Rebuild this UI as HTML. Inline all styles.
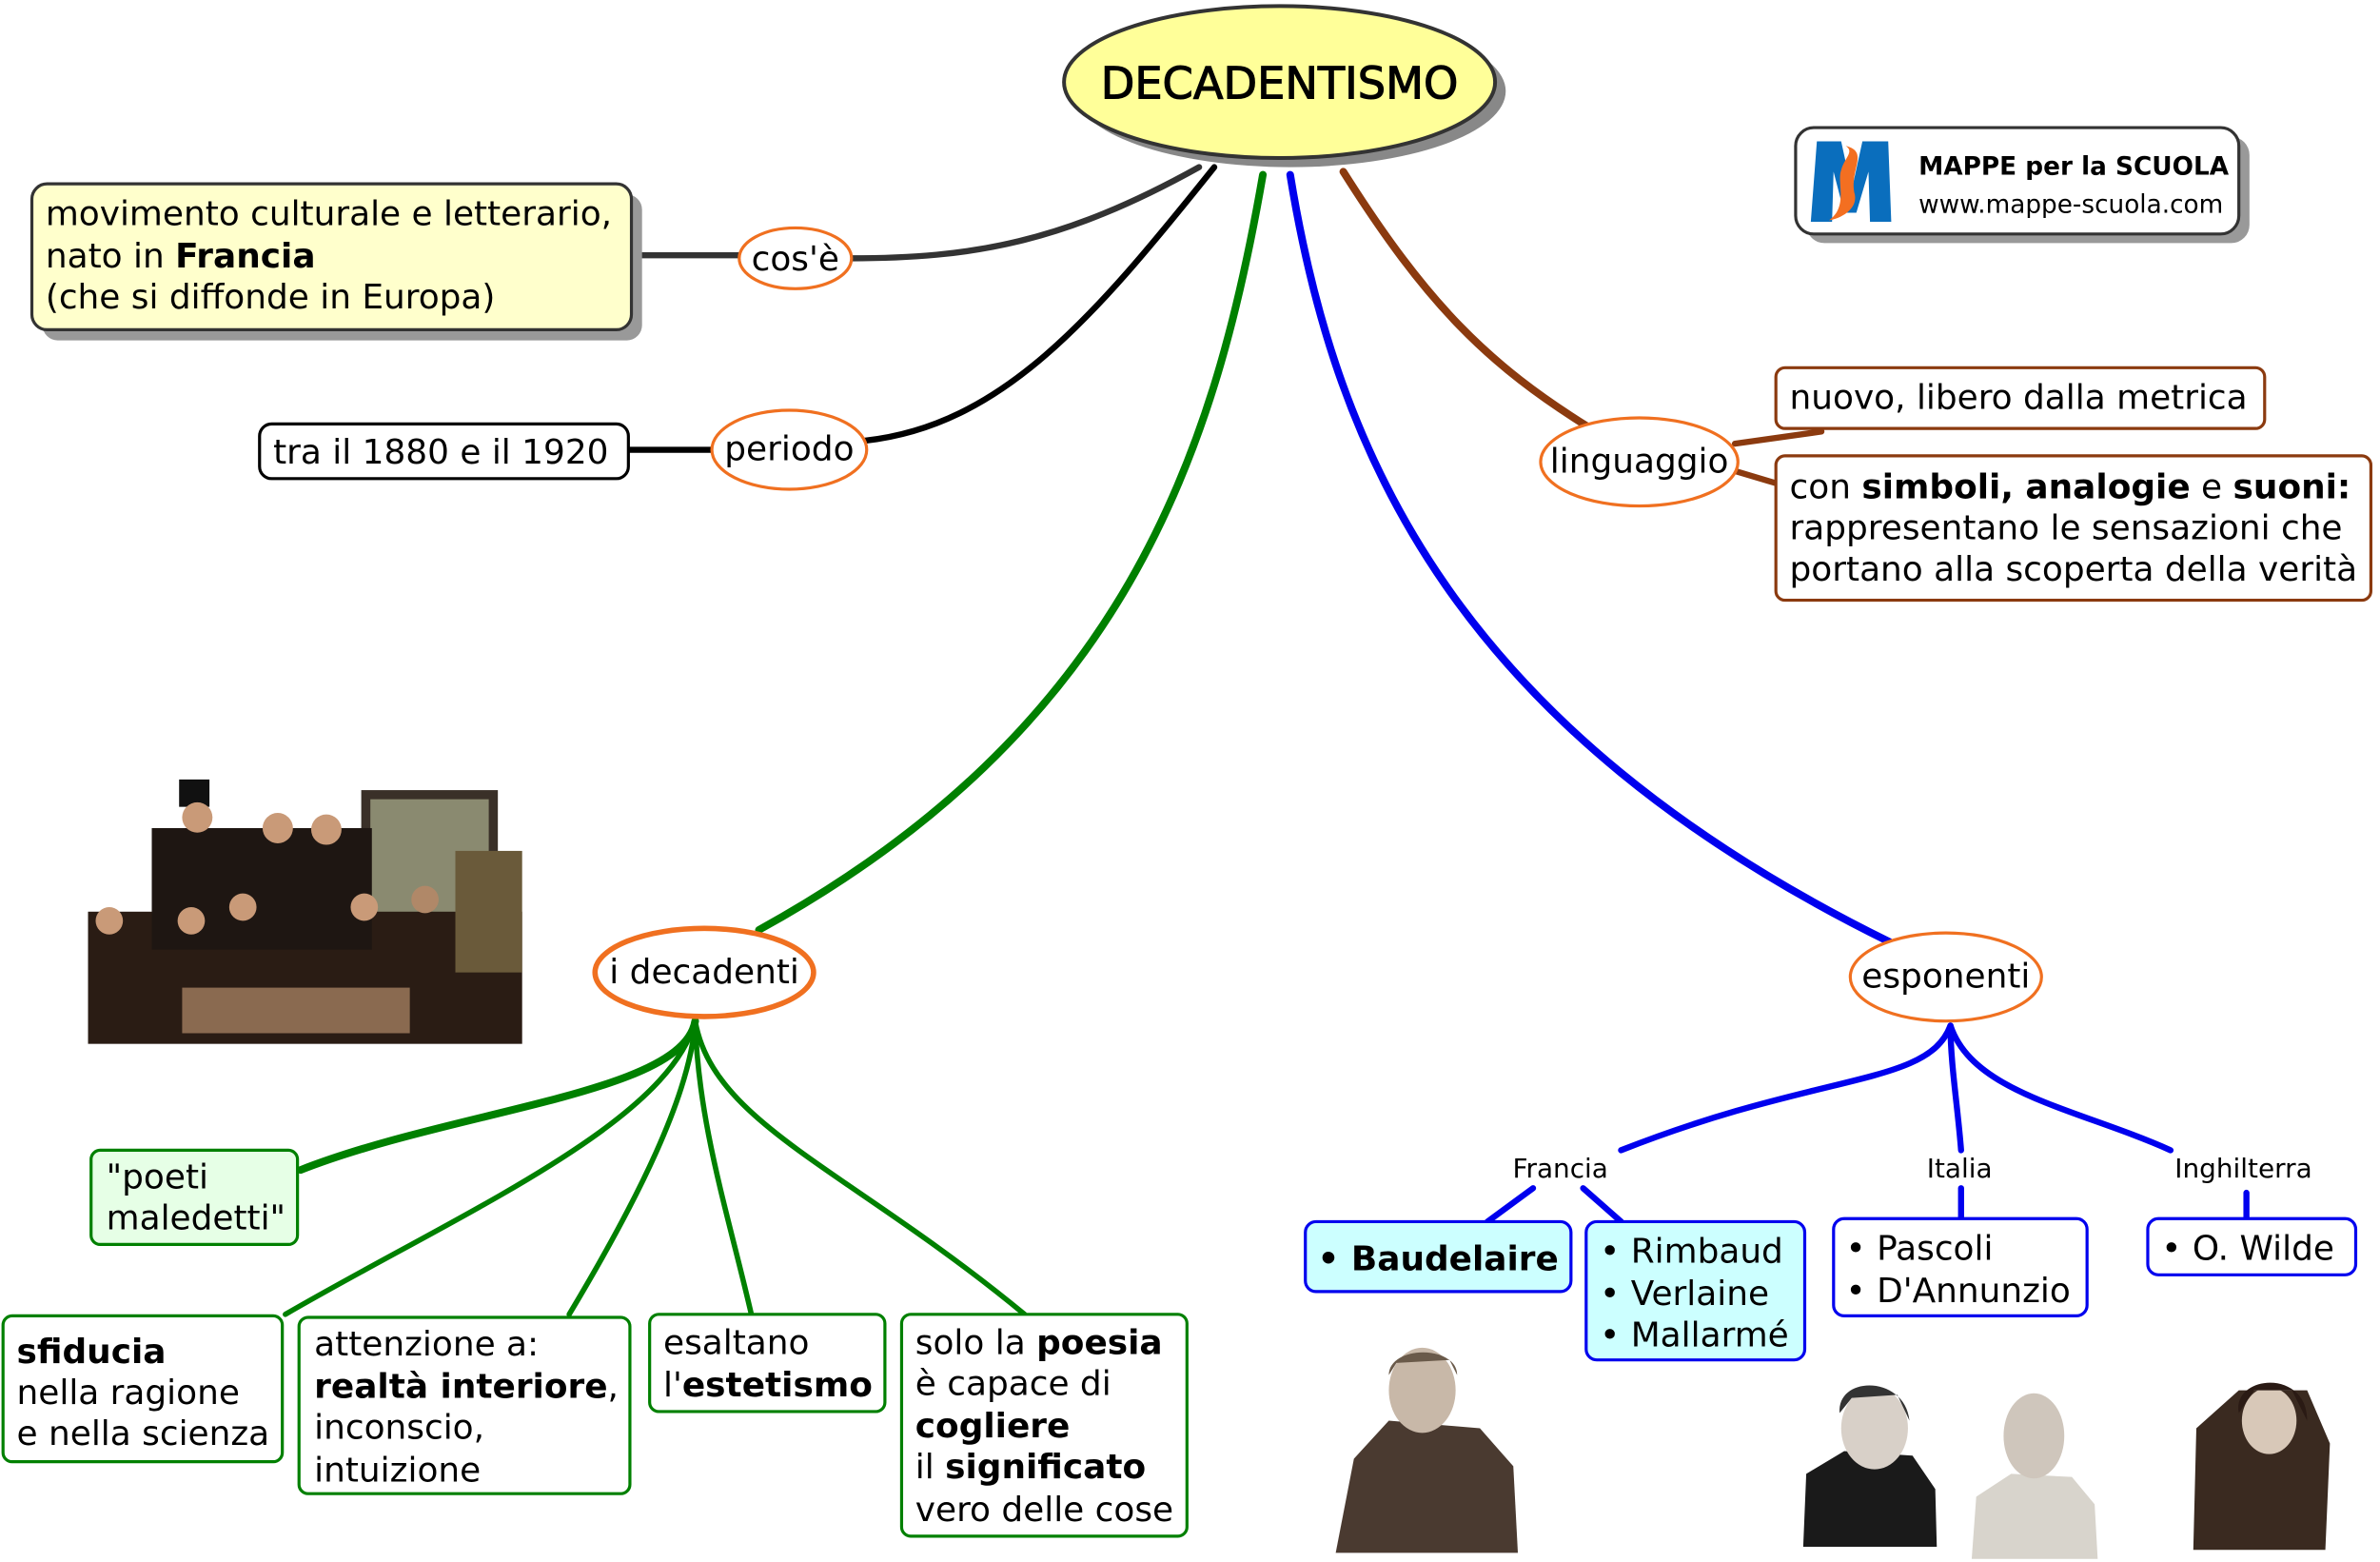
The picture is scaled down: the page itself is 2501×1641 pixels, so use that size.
<!DOCTYPE html>
<html><head><meta charset="utf-8"><style>
html,body{margin:0;padding:0;background:#fff;}
svg{display:block;}
text{font-family:"DejaVu Sans","Liberation Sans",sans-serif;fill:#000;}
.t{font-size:22.5px;}
</style></head><body>
<svg width="2501" height="1641" viewBox="0 0 1568 1028" preserveAspectRatio="none" xmlns="http://www.w3.org/2000/svg">
<g fill="none" stroke-linecap="round">
<path d="M790 110 C 700 160, 640 170, 560 170" stroke="#333" stroke-width="4"/>
<path d="M422 168 L488 168" stroke="#333" stroke-width="4"/>
<path d="M800 110 C 720 210, 660 280, 570 290" stroke="#000" stroke-width="4"/>
<path d="M415 296 L472 296" stroke="#000" stroke-width="4"/>
<path d="M885 113 C 940 200, 980 240, 1048 282" stroke="#8b3a0f" stroke-width="5"/>
<path d="M1143 292 L1200 284" stroke="#8b3a0f" stroke-width="4"/>
<path d="M1143 310 L1170 318" stroke="#8b3a0f" stroke-width="4"/>
<path d="M832 115 C 800 300, 740 480, 500 612" stroke="#008000" stroke-width="5"/>
<path d="M850 115 C 880 300, 960 480, 1245 620" stroke="#0000ee" stroke-width="5"/>
<path d="M458 672 C 450 720, 300 730, 198 770" stroke="#008000" stroke-width="5"/>
<path d="M458 672 C 440 740, 300 800, 188 865" stroke="#008000" stroke-width="3.5"/>
<path d="M458 672 C 455 720, 420 790, 375 865" stroke="#008000" stroke-width="3.5"/>
<path d="M458 672 C 460 740, 480 800, 495 865" stroke="#008000" stroke-width="3.5"/>
<path d="M458 672 C 470 740, 560 770, 675 865" stroke="#008000" stroke-width="3.5"/>
<path d="M1285 675 C 1270 715, 1200 705, 1068 757" stroke="#0000ee" stroke-width="4"/>
<path d="M1285 675 C 1285 700, 1290 730, 1292 757" stroke="#0000ee" stroke-width="4"/>
<path d="M1285 675 C 1300 720, 1370 730, 1430 757" stroke="#0000ee" stroke-width="4"/>
<path d="M1010 782 L980 804" stroke="#0000ee" stroke-width="4"/>
<path d="M1043 782 L1068 804" stroke="#0000ee" stroke-width="4"/>
<path d="M1292 782 L1292 802" stroke="#0000ee" stroke-width="4"/>
<path d="M1480 785 L1480 802" stroke="#0000ee" stroke-width="4"/>
</g>

<ellipse cx="850" cy="60" rx="142" ry="50" fill="#888"/>
<ellipse cx="843" cy="54" rx="142" ry="50" fill="#ffff99" stroke="#333" stroke-width="2.5"/>
<text x="843" y="65" font-size="29" text-anchor="middle" stroke="#000" stroke-width="0.7">DECADENTISMO</text>

<rect x="1190" y="90" width="292" height="70" rx="12" fill="#999"/>
<rect x="1183" y="84" width="292" height="70" rx="12" fill="#fff" stroke="#333" stroke-width="2"/>
<path d="M1193 146 L1197 93 L1213 93 L1220 125 L1227 93 L1244 93 L1246 146 L1232 146 L1231 113 L1223 140 L1215 140 L1208 113 L1207 146 Z" fill="#0a6ebd"/>
<path d="M1216 96 C 1232 100, 1218 112, 1222 128 C 1224 138, 1212 144, 1205 145 C 1218 136, 1210 120, 1213 112 C 1215 104, 1222 100, 1216 96Z" fill="#f36f21"/>
<text x="1264" y="115" font-size="16.5" font-weight="bold">MAPPE per la SCUOLA</text>
<text x="1264" y="140" font-size="16.5">www.mappe-scuola.com</text>

<rect x="28" y="128" width="395" height="96" rx="10" fill="#999"/>
<rect x="21" y="121" width="395" height="96" rx="10" fill="#ffffcc" stroke="#333" stroke-width="2"/>
<text x="30" y="148" class="t">movimento culturale e letterario,</text>
<text x="30" y="176" class="t">nato in <tspan font-weight="bold">Francia</tspan></text>
<text x="30" y="203" class="t">(che si diffonde in Europa)</text>
<ellipse cx="524" cy="170" rx="37" ry="20" fill="#fff" stroke="#f07020" stroke-width="2"/>
<text x="524" y="178" class="t" text-anchor="middle">cos'è</text>

<rect x="171" y="279" width="243" height="36" rx="8" fill="#fff" stroke="#000" stroke-width="2"/>
<text x="180" y="305" class="t">tra il 1880 e il 1920</text>
<ellipse cx="520" cy="296" rx="51" ry="26" fill="#fff" stroke="#f07020" stroke-width="2"/>
<text x="520" y="303" class="t" text-anchor="middle">periodo</text>

<ellipse cx="1080" cy="304" rx="65" ry="29" fill="#fff" stroke="#f07020" stroke-width="2"/>
<text x="1080" y="311" class="t" text-anchor="middle">linguaggio</text>
<rect x="1170" y="242" width="322" height="40" rx="6" fill="#fff" stroke="#8b3a0f" stroke-width="2"/>
<text x="1179" y="269" class="t">nuovo, libero dalla metrica</text>
<rect x="1170" y="300" width="392" height="95" rx="6" fill="#fff" stroke="#8b3a0f" stroke-width="2"/>
<text x="1179" y="328" class="t">con <tspan font-weight="bold">simboli, analogie</tspan> e <tspan font-weight="bold">suoni:</tspan></text>
<text x="1179" y="355" class="t">rappresentano le sensazioni che</text>
<text x="1179" y="382" class="t">portano alla scoperta della verità</text>

<ellipse cx="464" cy="640" rx="72" ry="29" fill="#fff" stroke="#f07020" stroke-width="3.5"/>
<text x="464" y="647" class="t" text-anchor="middle">i decadenti</text>

<rect x="58" y="520" width="286" height="167" fill="#fff"/>
<rect x="238" y="520" width="90" height="100" fill="#3a3028"/>
<rect x="244" y="526" width="78" height="86" fill="#8a8a70"/>
<rect x="58" y="600" width="286" height="87" fill="#2a1c14"/>
<rect x="100" y="545" width="145" height="80" fill="#1e1612"/>
<rect x="118" y="513" width="20" height="18" fill="#111"/>
<circle cx="130" cy="538" r="10" fill="#c99a78"/>
<circle cx="183" cy="545" r="10" fill="#c99a78"/>
<circle cx="215" cy="546" r="10" fill="#c99a78"/>
<circle cx="72" cy="606" r="9" fill="#c99a78"/>
<circle cx="126" cy="606" r="9" fill="#c99a78"/>
<circle cx="160" cy="597" r="9" fill="#c99a78"/>
<circle cx="240" cy="597" r="9" fill="#c99a78"/>
<circle cx="280" cy="592" r="9" fill="#b08868"/>
<rect x="120" y="650" width="150" height="30" fill="#8a6a50"/>
<rect x="300" y="560" width="44" height="80" fill="#6a5a3a"/>

<rect x="60" y="757" width="136" height="62" rx="6" fill="#e6ffe6" stroke="#008000" stroke-width="2"/>
<text x="70" y="782" class="t">"poeti</text>
<text x="70" y="809" class="t">maledetti"</text>
<rect x="2" y="866" width="184" height="96" rx="6" fill="#fff" stroke="#008000" stroke-width="2"/>
<text x="11" y="897" class="t" font-weight="bold">sfiducia</text>
<text x="11" y="924" class="t">nella ragione</text>
<text x="11" y="951" class="t">e nella scienza</text>
<rect x="197" y="867" width="218" height="116" rx="6" fill="#fff" stroke="#008000" stroke-width="2"/>
<text x="207" y="892" class="t">attenzione a:</text>
<text x="207" y="920" class="t"><tspan font-weight="bold">realtà interiore</tspan>,</text>
<text x="207" y="947" class="t">inconscio,</text>
<text x="207" y="975" class="t">intuizione</text>
<rect x="428" y="865" width="155" height="64" rx="6" fill="#fff" stroke="#008000" stroke-width="2"/>
<text x="437" y="891" class="t">esaltano</text>
<text x="437" y="919" class="t">l'<tspan font-weight="bold">estetismo</tspan></text>
<rect x="594" y="865" width="188" height="146" rx="6" fill="#fff" stroke="#008000" stroke-width="2"/>
<text x="603" y="891" class="t">solo la <tspan font-weight="bold">poesia</tspan></text>
<text x="603" y="918" class="t">è capace di</text>
<text x="603" y="946" class="t" font-weight="bold">cogliere</text>
<text x="603" y="973" class="t">il <tspan font-weight="bold">significato</tspan></text>
<text x="603" y="1001" class="t">vero delle cose</text>

<ellipse cx="1282" cy="643" rx="63" ry="29" fill="#fff" stroke="#f07020" stroke-width="2"/>
<text x="1282" y="650" class="t" text-anchor="middle">esponenti</text>
<text x="1028" y="775" font-size="17.5" text-anchor="middle">Francia</text>
<text x="1291" y="775" font-size="17.5" text-anchor="middle">Italia</text>
<text x="1478" y="775" font-size="17.5" text-anchor="middle">Inghilterra</text>

<rect x="860" y="804" width="175" height="46" rx="7" fill="#ccffff" stroke="#0000ee" stroke-width="2"/>
<text x="868" y="836" font-size="22.5" font-weight="bold">• Baudelaire</text>
<rect x="1045" y="804" width="144" height="91" rx="7" fill="#ccffff" stroke="#0000ee" stroke-width="2"/>
<text x="1054" y="831" class="t">• Rimbaud</text>
<text x="1054" y="859" class="t">• Verlaine</text>
<text x="1054" y="886" class="t">• Mallarmé</text>
<rect x="1208" y="802" width="167" height="64" rx="7" fill="#fff" stroke="#0000ee" stroke-width="2"/>
<text x="1216" y="829" class="t">• Pascoli</text>
<text x="1216" y="857" class="t">• D'Annunzio</text>
<rect x="1415" y="802" width="137" height="37" rx="7" fill="#fff" stroke="#0000ee" stroke-width="2"/>
<text x="1424" y="829" class="t">• O. Wilde</text>

<g>
<path d="M880 1022 L892 960 L915 935 L975 940 L997 965 L1000 1022 Z" fill="#4a3a30"/>
<ellipse cx="937" cy="915" rx="22" ry="28" fill="#c8b8a8"/>
<path d="M915 905 C 915 885, 960 885, 960 905 L955 895 L920 897 Z" fill="#6a5a4a"/>
<path d="M1188 1018 L1190 970 L1215 955 L1260 958 L1275 980 L1276 1018 Z" fill="#1a1a1a"/>
<ellipse cx="1235" cy="940" rx="22" ry="27" fill="#d8d0c8"/>
<path d="M1212 930 C 1210 905, 1255 905, 1258 935 L1250 918 L1220 920 Z" fill="#333"/>
<path d="M1299 1026 L1302 985 L1325 970 L1365 972 L1380 990 L1382 1026 Z" fill="#d8d4cc"/>
<ellipse cx="1340" cy="945" rx="20" ry="28" fill="#cfc6bc"/>
<path d="M1445 1020 L1447 940 L1475 915 L1520 915 L1535 950 L1532 1020 Z" fill="#3a2a20"/>
<ellipse cx="1495" cy="935" rx="18" ry="22" fill="#d8c8b8"/>
<path d="M1475 930 C 1470 905, 1520 900, 1520 935 L1510 915 L1485 915 Z" fill="#2a1a14"/>
</g>
</svg>
</body></html>
